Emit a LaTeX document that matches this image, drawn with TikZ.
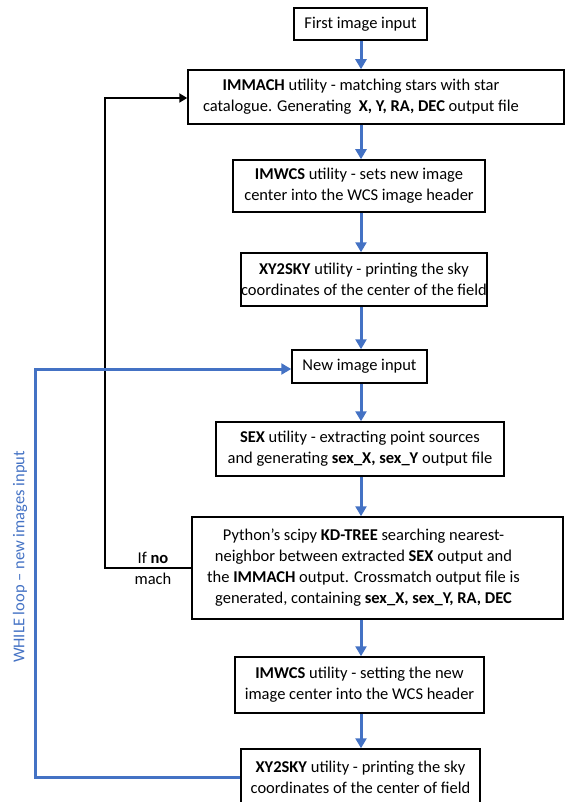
\documentclass[tikz,border=0pt]{standalone}
\usepackage{fontspec}
\setmainfont{Carlito}
\usepackage{tikz}
\usetikzlibrary{arrows.meta}
\definecolor{loopblue}{HTML}{4472C4}

\begin{document}
\begin{tikzpicture}[
		x=1pt, y=-1pt,
		every node/.style={font=\fontsize{16.5}{21}\selectfont, align=center, inner sep=0pt},
		box/.style={draw, line width=1.5pt, rectangle},
		flow/.style={draw=loopblue, line width=3pt, -{Triangle[width=11pt, length=10pt]}},
		back/.style={draw=black, line width=2pt, -{Triangle[width=9pt, length=8pt]}}
	]
  \useasboundingbox (0,0) rectangle (565,802);
  \clip (0,0) rectangle (565,802);
  \node (first) [box, minimum width=133, minimum height=32] at (360.5, 24) {First image input};
  \node (immach) [box, minimum width=376, minimum height=54,
    label={[xshift=-15pt]center:{\textbf{IMMACH} utility - matching stars with star\\catalogue. Generating \ \textbf{X, Y, RA, DEC} output file}}]
    at (376, 97) {};
  \node (imwcs_a) [box, minimum width=252, minimum height=52] at (359, 186)
    {\textbf{IMWCS} utility - sets new image\\center into the WCS image header};
  \node (sky_a) [box, minimum width=238, minimum height=53] at (364, 279.5)
    {\textbf{XY2SKY} utility - printing the sky\\coordinates of the center of the field};
  \node (newimg) [box, minimum width=135, minimum height=33] at (359.5, 366.5) {New image input};
  \node (sex) [box, minimum width=288, minimum height=54] at (360, 449)
    {\textbf{SEX} utility - extracting point sources\\and generating \textbf{sex\_X, sex\_Y} output file};
  \node (kdtree) [box, minimum width=371, minimum height=102,
    label={[xshift=-14pt]center:{Python’s scipy \textbf{KD-TREE} searching nearest-\\neighbor between extracted \textbf{SEX} output and\\the \textbf{IMMACH} output. Crossmatch output file is\\generated, containing \textbf{sex\_X, sex\_Y, RA, DEC}}}]
    at (377.5, 568) {};
  \node (imwcs_b) [box, minimum width=249, minimum height=56] at (359.5, 685)
    {\textbf{IMWCS} utility - setting the new\\image center into the WCS header};
  \node (sky_b) [box, minimum width=239, minimum height=56] at (360.5, 777)
    {\textbf{XY2SKY} utility - printing the sky\\coordinates of the center of field};
  \node (nomatch) at (153, 568) {If \textbf{no}\\mach};
  \node (while) [text=loopblue, rotate=90] at (20, 557) {WHILE loop -- new images input};
  \coordinate (black_corner) at (105, 98);
  \coordinate (blue_corner) at (35, 369);
  % main flow
  \draw [flow] (first.south -| 361, 0) -- (immach.north -| 361, 0);
  \draw [flow] (immach.south -| 361, 0) -- (imwcs_a.north -| 361, 0);
  \draw [flow] (imwcs_a.south -| 361, 0) -- (sky_a.north -| 361, 0);
  \draw [flow] (sky_a.south -| 361, 0) -- (newimg.north -| 361, 0);
  \draw [flow] (newimg.south -| 361, 0) -- (sex.north -| 361, 0);
  \draw [flow] (sex.south -| 361, 0) -- (kdtree.north -| 361, 0);
  \draw [flow] (kdtree.south -| 361, 0) -- (imwcs_b.north -| 361, 0);
  \draw [flow] (imwcs_b.south -| 361, 0) -- (sky_b.north -| 361, 0);
  % loops
  \draw [back] (kdtree.west) -| (black_corner) -- (immach.west |- black_corner);
  \draw [flow] (sky_b.west) -| (blue_corner) -- (newimg.west |- blue_corner);
\end{tikzpicture}
\end{document}
